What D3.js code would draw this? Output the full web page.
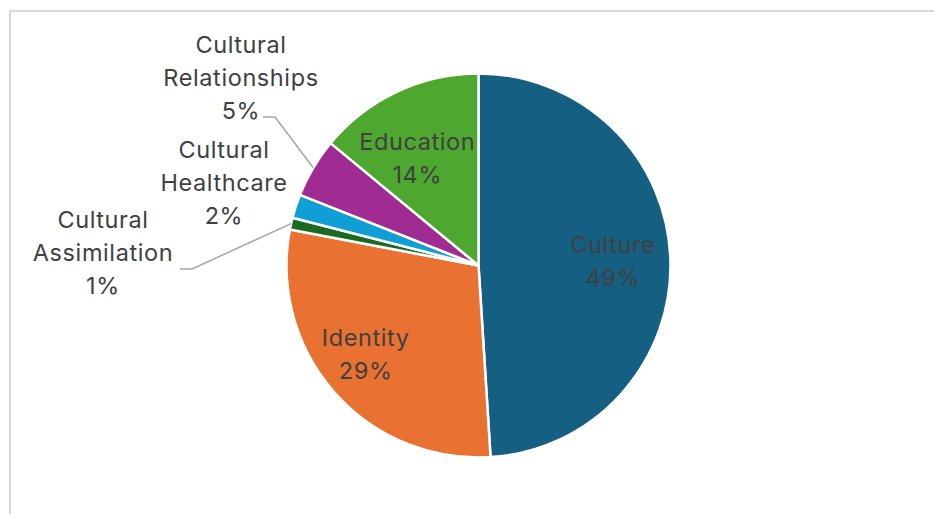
<!DOCTYPE html>
<html>
<head>
<meta charset="utf-8">
<script src="https://cdn.jsdelivr.net/npm/d3@7"></script>
<style>
  html, body { margin: 0; padding: 0; background: #ffffff; }
  svg { display: block; }
  text { font-family: Inter, "Open Sans", "Liberation Sans", sans-serif; }
</style>
</head>
<body>
<div id="chart"></div>
<script>
// Share of topics, in percent, going clockwise from 12 o'clock
const categories = ["Culture", "Identity", "Cultural Assimilation", "Cultural Healthcare", "Cultural Relationships", "Education"];
const values = [49, 29, 1, 2, 5, 14];
const colors = ["#156082", "#E97132", "#196B24", "#0F9ED5", "#A02B93", "#4EA72E"];

// Label text lines for each slice
const labelLines = [
  ["Culture"],
  ["Identity"],
  ["Cultural", "Assimilation"],
  ["Cultural", "Healthcare"],
  ["Cultural", "Relationships"],
  ["Education"]
];

const width = 934, height = 514;
const cx = 478.5, cy = 265.5, radius = 192;
const lineGap = 33;
const fontSize = 23.5;

// Where each label block is centred; inside labels use the slice centroid
const labelPlacement = [
  { inside: true, k: 0.70, dx: 0, dy: 0 },
  { inside: true, k: 0.70, dx: -12, dy: 0 },
  { inside: false, x: 103, y: 252, leader: [[180, 269], [192, 269]] },
  { inside: false, x: 224, y: 182, leader: null },
  { inside: false, x: 241, y: 77, leader: [[263, 117], [275, 117]] },
  { inside: true, k: 0.70, dx: -4, dy: 14 }
];

const data = categories.map((c, i) => ({ name: c, value: values[i], color: colors[i], lines: labelLines[i], place: labelPlacement[i] }));

const svg = d3.select("#chart").append("svg")
  .attr("width", width).attr("height", height);

// Chart area frame
svg.append("rect")
  .attr("x", 10).attr("y", 11)
  .attr("width", width + 10).attr("height", height + 10)
  .attr("fill", "none")
  .attr("stroke", "#d9d9d9")
  .attr("stroke-width", 2);

const pie = d3.pie().value(d => d.value).sort(null);
const arcs = pie(data);
const arc = d3.arc().innerRadius(0).outerRadius(radius);

const g = svg.append("g").attr("transform", `translate(${cx},${cy})`);

g.selectAll("path.slice")
  .data(arcs)
  .join("path")
  .attr("class", "slice")
  .attr("d", arc)
  .attr("fill", d => d.data.color)
  .attr("stroke", "#ffffff")
  .attr("stroke-width", 2.5)
  .attr("stroke-linejoin", "round");

const fmt = v => `${v}%`;

// Leader lines from outside labels to the slice edge at its mid-angle
arcs.forEach(a => {
  const p = a.data.place;
  if (p.inside || !p.leader) return;
  const mid = (a.startAngle + a.endAngle) / 2;
  const ex = cx + radius * Math.sin(mid);
  const ey = cy - radius * Math.cos(mid);
  const pts = p.leader.concat([[ex, ey]]);
  svg.append("polyline")
    .attr("points", pts.map(q => q.join(",")).join(" "))
    .attr("fill", "none")
    .attr("stroke", "#a6a6a6")
    .attr("stroke-width", 1.5);
});

// Data labels: category name plus percentage
arcs.forEach(a => {
  const p = a.data.place;
  let x, y;
  if (p.inside) {
    const mid = (a.startAngle + a.endAngle) / 2;
    x = cx + p.k * radius * Math.sin(mid) + p.dx;
    y = cy - p.k * radius * Math.cos(mid) + p.dy;
  } else {
    x = p.x; y = p.y;
  }
  const lines = a.data.lines.concat([fmt(a.data.value)]);
  const n = lines.length;
  const t = svg.append("text")
    .attr("x", x)
    .attr("text-anchor", "middle")
    .attr("font-size", fontSize)
    .attr("letter-spacing", 0.6)
    .attr("fill", "#404040");
  lines.forEach((s, i) => {
    t.append("tspan")
      .attr("x", x)
      .attr("y", y + (i - (n - 1) / 2) * lineGap)
      .attr("dominant-baseline", "central")
      .text(s);
  });
});
</script>
</body>
</html>
